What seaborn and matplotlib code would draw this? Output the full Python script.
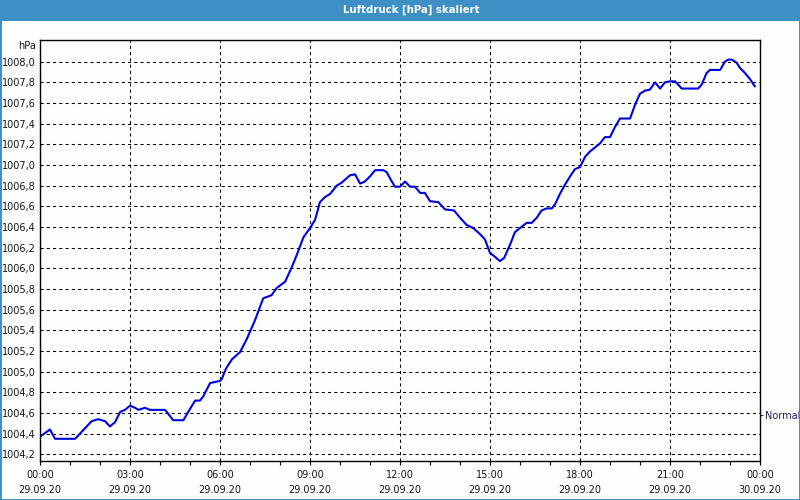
import matplotlib
matplotlib.use("Agg")
import matplotlib.pyplot as plt
import seaborn as sns
import pandas as pd
from matplotlib.patches import Rectangle

# ---- data (hours since 29.09.20 00:00, pressure in hPa) ----
hours = [0.0, 0.33, 0.5, 1.17, 1.72, 1.94, 2.17, 2.33, 2.5, 2.67, 2.83, 3.0, 3.17, 3.28,
         3.5, 3.67, 4.17, 4.44, 4.78, 4.94, 5.17, 5.33, 5.44, 5.67, 6.0, 6.06, 6.2, 6.4,
         6.67, 6.9, 7.17, 7.44, 7.72, 7.89, 8.17, 8.39, 8.56, 8.78, 9.0, 9.17, 9.33, 9.5,
         9.67, 9.89, 10.06, 10.33, 10.5, 10.67, 10.83, 11.0, 11.17, 11.44, 11.56, 11.67,
         11.83, 12.0, 12.17, 12.33, 12.5, 12.67, 12.83, 13.0, 13.28, 13.5, 13.8, 14.0,
         14.22, 14.44, 14.67, 14.83, 15.0, 15.17, 15.33, 15.47, 15.67, 15.83, 16.0, 16.22,
         16.39, 16.56, 16.72, 16.89, 17.06, 17.17, 17.33, 17.5, 17.67, 17.83, 18.0, 18.17,
         18.33, 18.5, 18.67, 18.83, 19.0, 19.17, 19.33, 19.67, 19.83, 20.0, 20.17, 20.33,
         20.5, 20.67, 20.83, 21.0, 21.17, 21.39, 21.94, 22.06, 22.22, 22.33, 22.67, 22.83,
         22.94, 23.06, 23.22, 23.33, 23.5, 23.67, 23.83]
pressure = [1004.37, 1004.44, 1004.35, 1004.35, 1004.52, 1004.54, 1004.52, 1004.47, 1004.51,
            1004.61, 1004.63, 1004.67, 1004.65, 1004.63, 1004.65, 1004.63, 1004.63, 1004.53,
            1004.53, 1004.61, 1004.72, 1004.72, 1004.76, 1004.89, 1004.91, 1004.93, 1005.03,
            1005.12, 1005.19, 1005.32, 1005.50, 1005.71, 1005.74, 1005.81, 1005.87, 1006.01,
            1006.13, 1006.30, 1006.39, 1006.47, 1006.64, 1006.69, 1006.72, 1006.80, 1006.83,
            1006.90, 1006.91, 1006.82, 1006.84, 1006.89, 1006.95, 1006.95, 1006.93, 1006.87,
            1006.79, 1006.79, 1006.84, 1006.79, 1006.79, 1006.73, 1006.73, 1006.65, 1006.64,
            1006.57, 1006.56, 1006.49, 1006.42, 1006.39, 1006.33, 1006.28, 1006.15, 1006.11,
            1006.07, 1006.10, 1006.23, 1006.35, 1006.39, 1006.44, 1006.44, 1006.49, 1006.56,
            1006.58, 1006.58, 1006.62, 1006.72, 1006.81, 1006.89, 1006.96, 1006.98, 1007.08,
            1007.13, 1007.17, 1007.21, 1007.27, 1007.27, 1007.37, 1007.45, 1007.45, 1007.58,
            1007.69, 1007.72, 1007.73, 1007.80, 1007.74, 1007.80, 1007.81, 1007.81, 1007.74,
            1007.74, 1007.78, 1007.89, 1007.92, 1007.92, 1008.00, 1008.02, 1008.02, 1007.99,
            1007.94, 1007.89, 1007.83, 1007.76]

x_ticks = [0, 3, 6, 9, 12, 15, 18, 21, 24]
x_tick_labels = ["00:00\n29.09.20", "03:00\n29.09.20", "06:00\n29.09.20", "09:00\n29.09.20",
                 "12:00\n29.09.20", "15:00\n29.09.20", "18:00\n29.09.20", "21:00\n29.09.20",
                 "00:00\n30.09.20"]
y_ticks = [1004.2, 1004.4, 1004.6, 1004.8, 1005.0, 1005.2, 1005.4, 1005.6, 1005.8, 1006.0,
           1006.2, 1006.4, 1006.6, 1006.8, 1007.0, 1007.2, 1007.4, 1007.6, 1007.8, 1008.0]
y_tick_labels = [f"{v:.1f}".replace(".", ",") for v in y_ticks]
normal_level = 1004.585
title = "Luftdruck [hPa] skaliert"
unit = "hPa"

df = pd.DataFrame({"hours": hours, "pressure": pressure})

sns.set_style("white")
plt.rcParams["font.family"] = ["DejaVu Sans"]

BG = "#FCFEFC"
FRAME_BLUE = "#3D8FC6"
TXT = "#151515"

fig = plt.figure(figsize=(8, 5), dpi=100, facecolor=BG)
ax = fig.add_axes([40 / 800, 1 - 460.5 / 500, 720 / 800, (460.5 - 40.3) / 500])
ax.set_facecolor(BG)

sns.lineplot(data=df, x="hours", y="pressure", ax=ax, color="#0000E0", linewidth=1.5)

ax.set_xlim(0, 24)
ax.set_ylim(1004.14, 1008.207)

ax.set_xticks(x_ticks)
ax.set_xticklabels(x_tick_labels, fontsize=7, color=TXT, linespacing=1.6)
ax.set_xticks(range(0, 25), minor=True)
ax.tick_params(axis="x", which="both", direction="out", length=3, width=0.8,
               color="black", pad=4, bottom=True)
ax.set_yticks(y_ticks)
ax.set_yticklabels(y_tick_labels, fontsize=7, color=TXT)
ax.tick_params(axis="y", length=0, pad=3, left=True)

ax.grid(True, which="major", color="black", linestyle=(0, (3, 3)), linewidth=0.75)
ax.set_axisbelow(True)
for s in ax.spines.values():
    s.set_visible(True)
    s.set_color("black")
    s.set_linewidth(1.0)
ax.set_xlabel("")
ax.set_ylabel("")

# right-side "Normal" marker
ax2 = ax.twinx()
ax2.set_ylim(ax.get_ylim())
ax2.set_yticks([normal_level])
ax2.set_yticklabels(["Normal"], fontsize=7, color="#202060")
ax2.tick_params(axis="y", length=2.5, width=0.8, pad=1, color="#202060")
for s in ax2.spines.values():
    s.set_visible(False)

# unit label
fig.text(36 / 800, 1 - 46 / 500, unit, ha="right", va="center", fontsize=7, color=TXT)

# title bar
fig.patches.append(Rectangle((0, 1 - 20.5 / 500), 1, 20.5 / 500, transform=fig.transFigure,
                             facecolor=FRAME_BLUE, edgecolor="none", zorder=0))
fig.text(411 / 800, 1 - 10 / 500, title, ha="center", va="center", fontsize=7.3,
         fontweight="bold", color="white")
# outer border
fig.patches.append(Rectangle((0.5 / 800, 0.5 / 500), 799 / 800, 499 / 500,
                             transform=fig.transFigure, facecolor="none",
                             edgecolor=FRAME_BLUE, linewidth=1.4, zorder=0))

fig.savefig("out.png", dpi=100, facecolor=BG)
